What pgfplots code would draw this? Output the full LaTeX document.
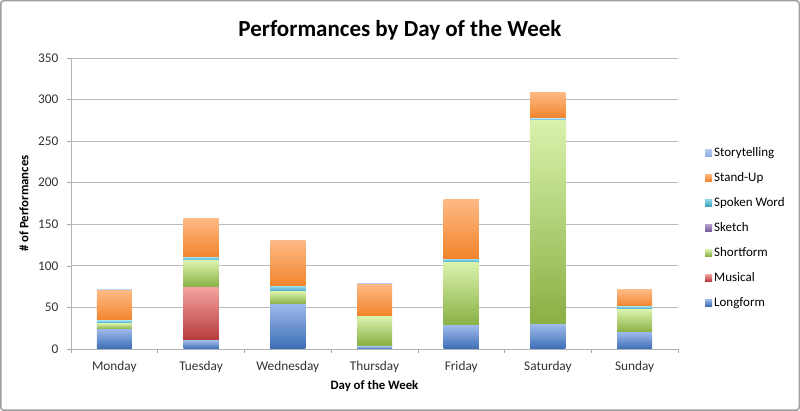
\documentclass[border=0pt]{standalone}
\usepackage{fontspec}
\setmainfont{Carlito}
\usepackage{pgfplots}
\pgfplotsset{compat=1.18}
\definecolor{lfT}{HTML}{9DB9EA}\definecolor{lfB}{HTML}{3B6DB5}
\definecolor{muT}{HTML}{F4A3A1}\definecolor{muB}{HTML}{B5393A}
\definecolor{sfT}{HTML}{D9F2AC}\definecolor{sfB}{HTML}{89AF43}
\definecolor{skT}{HTML}{B49FD0}\definecolor{skB}{HTML}{7B5F9E}
\definecolor{swT}{HTML}{8FD6EA}\definecolor{swB}{HTML}{3FA3BF}
\definecolor{suT}{HTML}{FDB984}\definecolor{suB}{HTML}{F2842B}
\definecolor{stT}{HTML}{B5CDF2}\definecolor{stB}{HTML}{8FAEE0}
\pgfplotsset{
  lf/.style={draw=none, top color=lfT, bottom color=lfB, fill=lfB},
  mu/.style={draw=none, top color=muT, bottom color=muB, fill=muB},
  sf/.style={draw=none, top color=sfT, bottom color=sfB, fill=sfB},
  sk/.style={draw=none, top color=skT, bottom color=skB, fill=skB},
  sw/.style={draw=none, top color=swT, bottom color=swB, fill=swB},
  su/.style={draw=none, top color=suT, bottom color=suB, fill=suB},
  st/.style={draw=none, top color=stT, bottom color=stB, fill=stB},
  common/.style={
    at={(71pt,62pt)}, anchor=south west,
    scale only axis, width=607pt, height=291pt,
    ybar stacked, bar width=35pt,
    xmin=-0.5, xmax=6.5, ymin=0, ymax=350,
  },
  hidden/.style={common, hide axis},
}
\begin{document}
\begin{tikzpicture}[x=1pt,y=1pt]
\draw[gray!75, line width=1.5pt, rounded corners=3pt] (0.75,0.75) rectangle (799.25,410.25);
\node[font=\fontsize{23}{27}\selectfont\bfseries] at (400,381) {Performances by Day of the Week};
\begin{axis}[common,
  xtick={0,...,6},
  xticklabels={Monday,Tuesday,Wednesday,Thursday,Friday,Saturday,Sunday},
  minor xtick={-0.5,0.5,...,6.5},
  major x tick style={draw=none},
  minor tick length=4pt,
  ytick={0,50,...,350},
  tick align=outside, major tick length=4pt,
  xtick pos=bottom, ytick pos=left,
  tick style={gray!70, line width=0.6pt},
  ymajorgrids, grid style={gray!55, line width=0.8pt},
  axis x line*=bottom, axis y line*=left,
  axis line style={gray!60, line width=0.8pt},
  ticklabel style={font=\fontsize{13.3}{15}\selectfont, text=black!80},
  xticklabel style={yshift=-5pt},
  yticklabel style={xshift=-5pt},
  /pgf/number format/assume math mode=true,
  xlabel={Day of the Week}, ylabel={\# of Performances},
  label style={font=\fontsize{12.8}{14}\selectfont\bfseries},
  xlabel style={yshift=-1pt},
  ylabel style={yshift=3pt},
  reverse legend,
  legend style={at={(1.0395,0.417)}, anchor=west, draw=none, fill=none,
    font=\fontsize{13}{14}\selectfont, row sep=10.5pt},
  legend cell align=left,
  legend image code/.code={\fill[#1] (0pt,-3.5pt) rectangle (7pt,3.5pt);},
]
% Monday
\addplot[lf] coordinates {(0,24)};
\addplot[mu] coordinates {(0,0)};
\addplot[sf] coordinates {(0,7)};
\addplot[sk] coordinates {(0,0)};
\addplot[sw] coordinates {(0,3)};
\addplot[su] coordinates {(0,36)};
\addplot[st] coordinates {(0,2)};
\legend{Longform,Musical,Shortform,Sketch,Spoken Word,Stand-Up,Storytelling}
\end{axis}
% Tuesday
\begin{axis}[hidden]
\addplot[lf] coordinates {(1,10)};
\addplot[mu] coordinates {(1,64)};
\addplot[sf] coordinates {(1,32)};
\addplot[sk] coordinates {(1,0)};
\addplot[sw] coordinates {(1,4)};
\addplot[su] coordinates {(1,47)};
\addplot[st] coordinates {(1,0)};
\end{axis}
% Wednesday
\begin{axis}[hidden]
\addplot[lf] coordinates {(2,54)};
\addplot[mu] coordinates {(2,0)};
\addplot[sf] coordinates {(2,15)};
\addplot[sk] coordinates {(2,0)};
\addplot[sw] coordinates {(2,6)};
\addplot[su] coordinates {(2,55)};
\addplot[st] coordinates {(2,0)};
\end{axis}
% Thursday
\begin{axis}[hidden]
\addplot[lf] coordinates {(3,3)};
\addplot[mu] coordinates {(3,1)};
\addplot[sf] coordinates {(3,35)};
\addplot[sk] coordinates {(3,1)};
\addplot[sw] coordinates {(3,0)};
\addplot[su] coordinates {(3,38)};
\addplot[st] coordinates {(3,1)};
\end{axis}
% Friday
\begin{axis}[hidden]
\addplot[lf] coordinates {(4,28)};
\addplot[mu] coordinates {(4,0)};
\addplot[sf] coordinates {(4,76)};
\addplot[sk] coordinates {(4,0)};
\addplot[sw] coordinates {(4,4)};
\addplot[su] coordinates {(4,72)};
\addplot[st] coordinates {(4,0)};
\end{axis}
% Saturday
\begin{axis}[hidden]
\addplot[lf] coordinates {(5,29)};
\addplot[mu] coordinates {(5,0)};
\addplot[sf] coordinates {(5,246)};
\addplot[sk] coordinates {(5,0)};
\addplot[sw] coordinates {(5,2)};
\addplot[su] coordinates {(5,32)};
\addplot[st] coordinates {(5,0)};
\end{axis}
% Sunday
\begin{axis}[hidden]
\addplot[lf] coordinates {(6,20)};
\addplot[mu] coordinates {(6,0)};
\addplot[sf] coordinates {(6,27)};
\addplot[sk] coordinates {(6,1)};
\addplot[sw] coordinates {(6,3)};
\addplot[su] coordinates {(6,20)};
\addplot[st] coordinates {(6,0)};
\end{axis}
\end{tikzpicture}
\end{document}
